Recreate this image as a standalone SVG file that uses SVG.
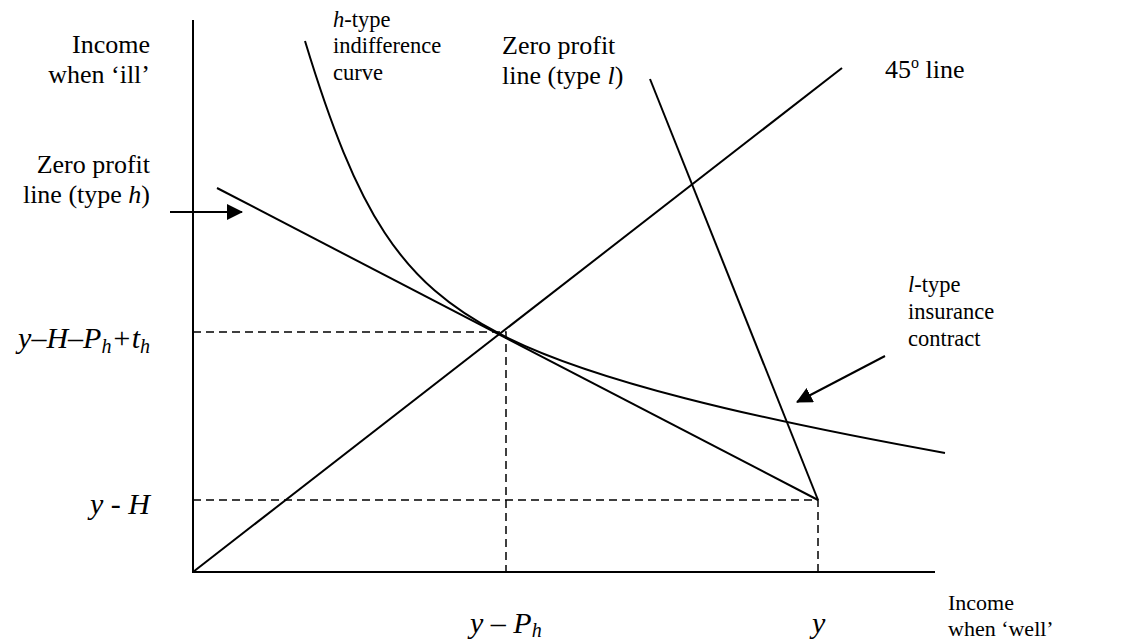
<svg xmlns="http://www.w3.org/2000/svg" width="1135" height="643" viewBox="0 0 1135 643">
<style>
text{font-family:"Liberation Serif","Times New Roman",serif;fill:#000}
.lbl{font-size:26px}
.sm{font-size:22.5px}
.well{font-size:22px}
.math{font-size:30px;font-style:italic}
.sub{font-size:20px}
.ln{stroke:#000;stroke-width:2;fill:none}
.dash{stroke:#000;stroke-width:1.5;stroke-dasharray:8 5;fill:none}
</style>
<defs>
<marker id="ah" viewBox="0 0 16 16" markerWidth="16" markerHeight="16" refX="15" refY="8" orient="auto" markerUnits="userSpaceOnUse"><path d="M0,0 L16,8 L0,16 Z" fill="#000"/></marker>
</defs>
<rect width="1135" height="643" fill="#fff"/>
<g id="axes">
<line class="ln" x1="193" y1="20" x2="193" y2="572"/>
<line class="ln" x1="192" y1="572" x2="935" y2="572"/>
</g>
<g id="guides">
<polyline class="dash" points="193,332 506,332 506,572"/>
<polyline class="dash" points="193,500 818,500 818,572"/>
</g>
<g id="line45"><line class="ln" x1="193" y1="572" x2="842" y2="68"/></g>
<g id="zero-h"><line class="ln" x1="217" y1="188" x2="818" y2="500"/></g>
<g id="zero-l"><line class="ln" x1="650" y1="79" x2="818" y2="500"/></g>
<g id="indiff"><path class="ln" d="M305,41 C357.5,213.5 400,282.1 500,334 C590,380.7 755,418.8 945,453"/></g>
<g id="connectors">
<line class="ln" x1="170" y1="212" x2="242" y2="212" marker-end="url(#ah)"/>
<line class="ln" x1="885" y1="356" x2="797" y2="402" marker-end="url(#ah)"/>
</g>
<g id="label-ill"><text class="lbl" text-anchor="end"><tspan x="150" y="53">Income</tspan><tspan x="150" y="83">when ‘ill’</tspan></text></g>
<g id="label-zero-h"><text class="lbl" text-anchor="end"><tspan x="150" y="173">Zero profit</tspan><tspan x="150" y="203">line (type <tspan font-style="italic">h</tspan>)</tspan></text></g>
<g id="label-htype"><text class="sm"><tspan x="333" y="27"><tspan font-style="italic">h</tspan>-type</tspan><tspan x="333" y="53">indifference</tspan><tspan x="333" y="80">curve</tspan></text></g>
<g id="label-zero-l"><text class="lbl"><tspan x="502" y="54">Zero profit</tspan><tspan x="502" y="84">line (type <tspan font-style="italic">l</tspan>)</tspan></text></g>
<g id="label-45"><text class="lbl" x="885" y="78">45<tspan font-size="16" dy="-10">o</tspan><tspan dy="10"> line</tspan></text></g>
<g id="label-ltype"><text class="sm"><tspan x="908" y="292"><tspan font-style="italic">l</tspan>-type</tspan><tspan x="908" y="319">insurance</tspan><tspan x="908" y="346">contract</tspan></text></g>
<g id="label-well"><text class="well"><tspan x="948" y="610">Income</tspan><tspan x="948" y="636">when ‘well’</tspan></text></g>
<g id="label-yhpt"><text class="math" x="150" y="348" text-anchor="end">y–H–P<tspan class="sub" dy="5">h</tspan><tspan dy="-5">+t</tspan><tspan class="sub" dy="5">h</tspan></text></g>
<g id="label-yh"><text class="math" x="150" y="514" text-anchor="end">y - H</text></g>
<g id="label-yph"><text class="math" x="470" y="633">y – P<tspan class="sub" dy="4">h</tspan></text></g>
<g id="label-y"><text class="math" x="812" y="633">y</text></g>
</svg>
